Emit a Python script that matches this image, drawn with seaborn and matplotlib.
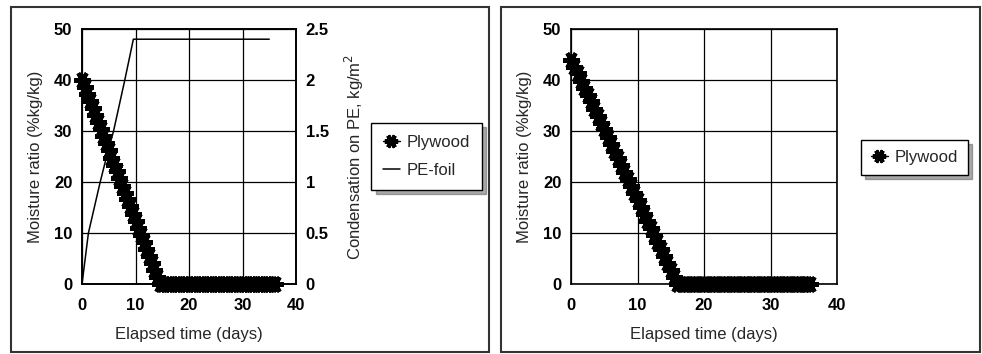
import matplotlib
matplotlib.use("Agg")
import matplotlib.pyplot as plt
import seaborn as sns
from matplotlib.patches import Rectangle

# ---------------- data ----------------
days = [0.0, 0.5, 1.0, 1.5, 2.0, 2.5, 3.0, 3.5, 4.0, 4.5, 5.0, 5.5, 6.0, 6.5, 7.0, 7.5,
        8.0, 8.5, 9.0, 9.5, 10.0, 10.5, 11.0, 11.5, 12.0, 12.5, 13.0, 13.5, 14.0, 14.5,
        15.0, 15.5, 16.0, 16.5, 17.0, 17.5, 18.0, 18.5, 19.0, 19.5, 20.0, 20.5, 21.0,
        21.5, 22.0, 22.5, 23.0, 23.5, 24.0, 24.5, 25.0, 25.5, 26.0, 26.5, 27.0, 27.5,
        28.0, 28.5, 29.0, 29.5, 30.0, 30.5, 31.0, 31.5, 32.0, 32.5, 33.0, 33.5, 34.0,
        34.5, 35.0, 35.5, 36.0]

plywood_left = [40.0, 38.6, 37.2, 35.9, 34.5, 33.1, 31.7, 30.3, 29.0, 27.6, 26.2, 24.8,
                23.4, 22.1, 20.7, 19.3, 17.9, 16.6, 15.2, 13.8, 12.4, 11.0, 9.7, 8.3,
                6.9, 5.5, 4.1, 2.8, 1.4, 0.0,
                0, 0, 0, 0, 0, 0, 0, 0, 0, 0, 0, 0, 0, 0, 0, 0, 0, 0, 0, 0, 0, 0,
                0, 0, 0, 0, 0, 0, 0, 0, 0, 0, 0, 0, 0, 0, 0, 0, 0, 0, 0, 0, 0]

pe_days = [0.0, 1.2, 3.4, 4.6, 5.9, 8.0, 9.6, 35.0]
pe_foil = [0.0, 0.5, 1.0, 1.25, 1.5, 2.0, 2.4, 2.4]

plywood_right = [44.0, 42.6, 41.3, 39.9, 38.5, 37.1, 35.8, 34.4, 33.0, 31.6, 30.3, 28.9,
                 27.5, 26.1, 24.8, 23.4, 22.0, 20.6, 19.3, 17.9, 16.5, 15.1, 13.8, 12.4,
                 11.0, 9.6, 8.3, 6.9, 5.5, 4.1, 2.8, 1.4, 0.0,
                 0, 0, 0, 0, 0, 0, 0, 0, 0, 0, 0, 0, 0, 0, 0, 0, 0, 0, 0, 0,
                 0, 0, 0, 0, 0, 0, 0, 0, 0, 0, 0, 0, 0, 0, 0, 0, 0, 0, 0, 0]

x_ticks = [0, 10, 20, 30, 40]
y_ticks = [0, 10, 20, 30, 40, 50]
y2_ticks = [0, 0.5, 1, 1.5, 2, 2.5]
y2_labels = ["0", "0.5", "1", "1.5", "2", "2.5"]

# ---------------- style ----------------
sns.set_theme(style="white")
plt.rcParams['font.family'] = ['Liberation Sans', 'DejaVu Sans']

W, H = 982, 354
fig = plt.figure(figsize=(W / 100, H / 100), dpi=100)

def frac_box(x0, y0, x1, y1):
    return [x0 / W, 1 - y1 / H, (x1 - x0) / W, (y1 - y0) / H]

# panel frames
for (x0, y0, x1, y1) in [(11, 7, 489, 352), (501, 7, 980, 352)]:
    fig.add_artist(Rectangle((x0 / W, 1 - y1 / H), (x1 - x0) / W, (y1 - y0) / H,
                             transform=fig.transFigure, fill=False,
                             edgecolor='#333333', linewidth=1.5))

marker = (6, 2, 90)
tick_kw = dict(fontsize=12, fontweight='bold')
label_fs = 12

def style_axes(ax):
    ax.set_xlim(0, 40)
    ax.set_ylim(0, 50)
    ax.set_xticks(x_ticks)
    ax.set_yticks(y_ticks)
    ax.set_xticklabels([str(v) for v in x_ticks], **tick_kw)
    ax.set_yticklabels([str(v) for v in y_ticks], **tick_kw)
    ax.grid(True, color='black', linewidth=0.9)
    for s in ax.spines.values():
        s.set_color('black')
        s.set_linewidth(1.2)
    ax.tick_params(axis='y', length=0, pad=7, colors='black')
    ax.tick_params(axis='x', length=0, pad=10, colors='black')
    ax.set_xlabel("Elapsed time (days)", fontsize=label_fs, labelpad=10)
    ax.set_ylabel("Moisture ratio (%kg/kg)", fontsize=label_fs, labelpad=8)

# ---------------- left panel ----------------
ax1 = fig.add_axes(frac_box(82, 29, 296, 284))
sns.lineplot(x=days, y=plywood_left, ax=ax1, color='black', linewidth=1,
             marker=marker, markersize=12, markeredgewidth=3,
             markeredgecolor='black', label='Plywood', legend=False, clip_on=False)
style_axes(ax1)
ax1.set_zorder(2)
ax1.patch.set_visible(False)

ax1b = ax1.twinx()
sns.lineplot(x=pe_days, y=pe_foil, ax=ax1b, color='black', linewidth=1.1,
             label='PE-foil', legend=False)
ax1b.set_ylim(0, 2.5)
ax1b.set_yticks(y2_ticks)
ax1b.set_yticklabels(y2_labels, **tick_kw)
ax1b.tick_params(axis='y', length=0, pad=7, colors='black')
ax1b.set_ylabel("Condensation on PE, kg/m$^2$", fontsize=label_fs, labelpad=10)
ax1b.grid(False)
for s in ax1b.spines.values():
    s.set_color('black')
    s.set_linewidth(1.2)
ax1b.set_zorder(1)

h1, l1 = ax1.get_legend_handles_labels()
h2, l2 = ax1b.get_legend_handles_labels()
fig.legend(h1 + h2, l1 + l2, loc='center',
           bbox_to_anchor=(426.5 / W, 1 - 156.5 / H), bbox_transform=fig.transFigure,
           fontsize=12, frameon=True, fancybox=False, edgecolor='black',
           shadow={'ox': 3, 'oy': -3, 'color': '#555555'},
           handlelength=1.0, handletextpad=0.4, borderpad=0.7, labelspacing=0.8,
           markerscale=0.8)

# ---------------- right panel ----------------
ax2 = fig.add_axes(frac_box(571, 29, 837, 284))
sns.lineplot(x=days, y=plywood_right, ax=ax2, color='black', linewidth=1,
             marker=marker, markersize=12, markeredgewidth=3,
             markeredgecolor='black', label='Plywood', legend=False, clip_on=False)
style_axes(ax2)

h3, l3 = ax2.get_legend_handles_labels()
fig.legend(h3, l3, loc='center',
           bbox_to_anchor=(914.5 / W, 1 - 157 / H), bbox_transform=fig.transFigure,
           fontsize=12, frameon=True, fancybox=False, edgecolor='black',
           shadow={'ox': 3, 'oy': -3, 'color': '#555555'},
           handlelength=1.0, handletextpad=0.4, borderpad=0.6,
           markerscale=0.8)

fig.savefig("out.png", dpi=100)
